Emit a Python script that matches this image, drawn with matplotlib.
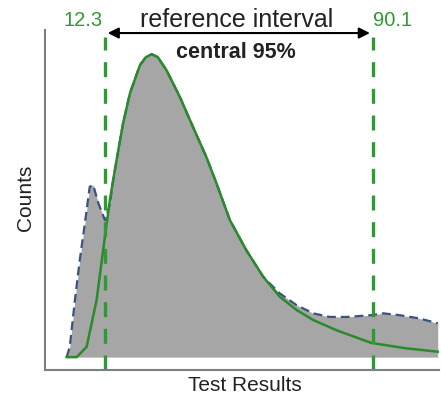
import matplotlib
matplotlib.use('Agg')
import matplotlib.pyplot as plt

plt.rcParams['font.family'] = ['Liberation Sans', 'DejaVu Sans']

# histogram outline (test result, counts)
hist_x = [1.2, 2.1, 3.6, 5.0, 6.5, 7.9, 8.9, 10.4, 12.3, 13.75, 14.7, 16.2, 17.6, 19.6,
          22.5, 24.2, 25.9, 27.7, 30.2, 34.1, 37.9, 41.8, 44.7, 48.6, 53.4, 58.3, 60.2,
          63.1, 68.0, 72.8, 77.6, 82.5, 89.7, 93.1, 97.9, 103.7, 109.0]
hist_y = [0, 3.4, 18.9, 32.1, 44.4, 56.4, 57.0, 51.0, 45.4, 50.5, 58.6, 68.5, 77.5, 87.4,
          96.7, 99.3, 100.3, 99.3, 95.0, 86.1, 76.2, 66.2, 57.6, 45.4, 35.4, 26.6, 24.4,
          21.1, 17.2, 14.5, 13.3, 13.3, 13.9, 14.5, 13.9, 12.8, 11.2]

# fitted curve
fit_x = [1.2, 4.1, 7.0, 9.9, 12.3, 13.75, 14.7, 16.2, 17.6, 19.6, 22.5, 24.2, 25.9, 27.7,
         30.2, 34.1, 37.9, 41.8, 44.7, 48.6, 53.4, 58.3, 63.1, 68.0, 72.8, 79.6, 89.7,
         99.9, 109.0]
fit_y = [0, 0, 3.4, 18.9, 39.8, 52.0, 58.6, 68.5, 77.5, 87.4, 96.7, 99.3, 100.3, 99.3,
         95.0, 86.1, 76.2, 66.2, 57.6, 45.4, 35.4, 26.6, 20.0, 15.6, 12.3, 8.9, 4.7,
         2.9, 1.8]

lower, upper = 12.3, 90.1
green = '#2f9a32'

fig = plt.figure(figsize=(4.41, 3.95), dpi=100)
ax = fig.add_axes([0.102, 0.063, 0.893, 0.861])
ax.set_xlim(-5.1, 109.3)
ax.set_ylim(-4.3, 108.3)

ax.fill_between(hist_x, hist_y, 0, color='#a6a6a6', lw=0)
ax.plot(hist_x, hist_y, color='#37537e', lw=1.6, ls=(0, (4, 2.2)))
ax.plot(fit_x, fit_y, color='#2a8a2c', lw=1.8)

for xv in [lower, upper]:
    ax.plot([xv, xv], [-4.3, 106], color=green, lw=2.4, ls=(0, (4.5, 3.5)), clip_on=False)

ax.annotate('', xy=(lower + 0.8, 107.3), xytext=(upper - 0.8, 107.3),
            arrowprops=dict(arrowstyle='<|-|>', color='black', lw=1.5,
                            mutation_scale=16, shrinkA=0, shrinkB=0),
            annotation_clip=False)

for s in ['top', 'right']:
    ax.spines[s].set_visible(False)
for s in ['left', 'bottom']:
    ax.spines[s].set_color('#7f7f7f')
    ax.spines[s].set_linewidth(1.5)
ax.set_xticks([])
ax.set_yticks([])

fig.text(0.188, 0.949, '12.3', color=green, fontsize=14.5, ha='center', va='center')
fig.text(0.891, 0.949, '90.1', color=green, fontsize=14.5, ha='center', va='center')
fig.text(0.537, 0.949, 'reference interval', color='#222222', fontsize=18, ha='center', va='center')
fig.text(0.535, 0.868, 'central 95%', color='#222222', fontsize=15.5, fontweight='bold',
         ha='center', va='center')
fig.text(0.057, 0.499, 'Counts', fontsize=15, color='#222222', rotation=90, ha='center', va='center')
fig.text(0.556, 0.025, 'Test Results', fontsize=15, color='#222222', ha='center', va='center')

fig.savefig('out.png', dpi=100)
